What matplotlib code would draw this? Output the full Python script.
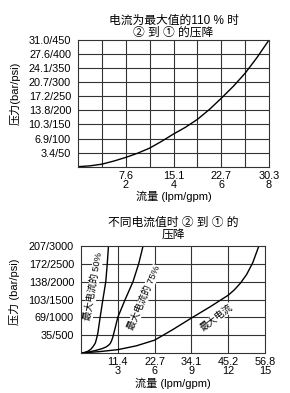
import matplotlib
matplotlib.use('Agg')
import matplotlib.pyplot as plt

plt.rcParams['font.family'] = ['Liberation Sans', 'Noto Sans CJK SC']

# top chart: pressure drop 2 -> 1 at 110% of max current
top_gpm = [0, 0.5, 1, 1.5, 2, 2.5, 3, 3.5, 4, 4.5, 5, 5.5, 6, 6.5, 7, 7.5, 8]
top_psi = [0, 3, 9, 20, 33, 48, 66, 90, 116, 140, 168, 203, 243, 285, 332, 388, 450]
top_xticks = [2, 4, 6, 8]
top_xlabels = ['7.6\n2', '15.1\n4', '22.7\n6', '30.3\n8']
top_yticks = [50, 100, 150, 200, 250, 300, 350, 400, 450]
top_ylabels = ['3.4/50', '6.9/100', '10.3/150', '13.8/200', '17.2/250',
               '20.7/300', '24.1/350', '27.6/400', '31.0/450']

# bottom chart: pressure drop 2 -> 1 at different currents
c50_gpm = [0, 0.3, 0.55, 0.8, 0.96, 1.1, 1.17, 1.25, 1.37, 1.56, 1.78, 2.02, 2.14, 2.24]
c50_psi = [0, 15, 47, 105, 170, 240, 283, 380, 547, 1000, 1490, 2000, 2500, 3000]
c75_gpm = [0, 0.6, 1.23, 1.7, 2.05, 2.25, 2.38, 2.5, 2.6, 2.81, 3.0, 3.3, 3.6, 4.24, 4.7, 5.06]
c75_psi = [0, 25, 75, 120, 170, 220, 264, 350, 453, 736, 1000, 1250, 1500, 2000, 2500, 3000]
cmax_gpm = [0, 1.5, 3, 4.5, 6, 7.5, 9, 10.5, 12, 12.5, 13, 13.5, 14, 14.5]
cmax_psi = [0, 38, 94, 200, 360, 660, 980, 1290, 1620, 1770, 1960, 2200, 2530, 3000]
bot_xticks = [3, 6, 9, 12, 15]
bot_xlabels = ['11.4\n3', '22.7\n6', '34.1\n9', '45.2\n12', '56.8\n15']
bot_yticks = [500, 1000, 1500, 2000, 2500, 3000]
bot_ylabels = ['35/500', '69/1000', '103/1500', '138/2000', '172/2500', '207/3000']

W, H = 290, 393
fig = plt.figure(figsize=(W / 100, H / 100), dpi=100)

line_col = '#333333'
fs = 7.8


def setup(ax, xmax, xstep, ymax, ystep, xticks, xlabels, yticks, ylabels):
    ax.set_xlim(0, xmax)
    ax.set_ylim(0, ymax)
    xv = xstep
    while xv < xmax:
        ax.axvline(xv, color=line_col, linewidth=0.8)
        xv += xstep
    yv = ystep
    while yv < ymax:
        ax.axhline(yv, color=line_col, linewidth=0.8)
        yv += ystep
    for s in ax.spines.values():
        s.set_color(line_col)
        s.set_linewidth(0.8)
    ax.set_xticks(xticks)
    ax.set_xticklabels(xlabels, fontsize=fs, linespacing=0.85)
    ax.set_yticks(yticks)
    ax.set_yticklabels(ylabels, fontsize=fs)
    ax.tick_params(axis='y', length=0, pad=5)
    ax.tick_params(axis='x', length=0, pad=3)


# ---- top chart
ax1 = fig.add_axes([78 / W, 1 - 166.7 / H, 191 / W, 126.7 / H])
setup(ax1, 8, 1, 450, 50, top_xticks, top_xlabels, top_yticks, top_ylabels)
ax1.plot(top_gpm, top_psi, color='black', linewidth=1.0)
ax1.set_title('电流为最大值的110 % 时\n② 到 ① 的压降', fontsize=8.5,
              linespacing=1.0, pad=3)
ax1.set_xlabel('流量 (lpm/gpm)', fontsize=8, labelpad=1)
ax1.set_ylabel('压力(bar/psi)', fontsize=8)
ax1.yaxis.set_label_coords(-0.30, 0.58)

# ---- bottom chart
ax2 = fig.add_axes([81 / W, 1 - 353 / H, 184 / W, 107 / H])
setup(ax2, 15, 3, 3000, 500, bot_xticks, bot_xlabels, bot_yticks, bot_ylabels)
ax2.plot(c50_gpm, c50_psi, color='black', linewidth=1.0)
ax2.plot(c75_gpm, c75_psi, color='black', linewidth=1.0)
ax2.plot(cmax_gpm, cmax_psi, color='black', linewidth=1.0)
ax2.set_title('不同电流值时 ② 到 ① 的\n压降', fontsize=8.5,
              linespacing=1.0, pad=6)
ax2.set_xlabel('流量 (lpm/gpm)', fontsize=8, labelpad=1)
ax2.set_ylabel('压力 (bar/psi)', fontsize=8)
ax2.yaxis.set_label_coords(-0.33, 0.57)

lbl_kw = dict(fontsize=6.8, ha='center', va='center',
              bbox=dict(facecolor='white', edgecolor='none', pad=0.3))
ax2.text(1.0, 1860, '最大电流的 50%', rotation=80, **lbl_kw)
ax2.text(5.13, 1540, '最大电流的 75%', rotation=67, **lbl_kw)
ax2.text(11.06, 995, '最大电流', rotation=37, **lbl_kw)

fig.savefig('out.png', dpi=100)
